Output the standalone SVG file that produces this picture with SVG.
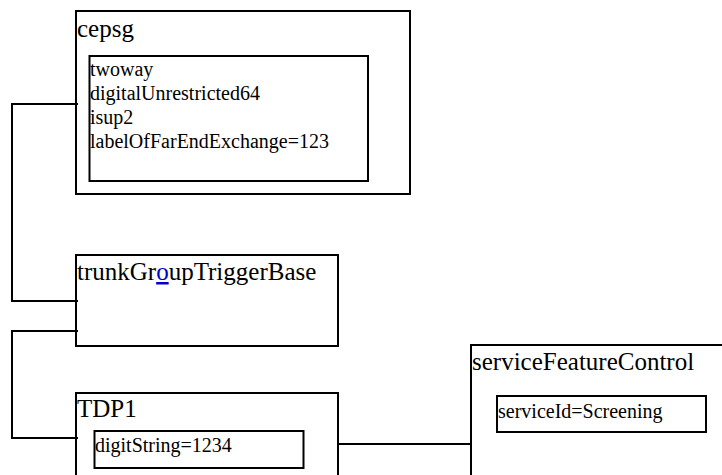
<svg xmlns="http://www.w3.org/2000/svg" width="722" height="475" viewBox="0 0 722 475">
<style>
rect{fill:none;stroke:#000;stroke-width:2}
.c path{fill:none;stroke:#000;stroke-width:2}
.big{font-size:25px}
.sm{font-size:20px}
</style>
<rect x="0" y="0" width="722" height="475" style="fill:#fff;stroke:none"/>
<g class="c" id="connectors">
<path d="M78,104 H12 V301 H78"/>
<path d="M78,331 H12 V438 H78"/>
<path d="M338,444 H471"/>
</g>
<g font-family="Liberation Serif, Tinos, Times New Roman, DejaVu Serif, serif" fill="#000">
<g id="cepsg">
<rect x="76" y="11" width="334" height="183"/>
<text class="big" x="77" y="37">cepsg</text>
<rect x="89.5" y="56" width="278.5" height="125"/>
<text class="sm" x="90" y="76">twoway</text>
<text class="sm" x="90" y="100">digitalUnrestricted64</text>
<text class="sm" x="90" y="124">isup2</text>
<text class="sm" x="90" y="148">labelOfFarEndExchange=123</text>
</g>
<g id="trunkGroupTriggerBase">
<rect x="76" y="255" width="262" height="91"/>
<text class="big" x="77" y="280">trunkGr<tspan fill="#0000cc" text-decoration="underline">o</tspan>upTriggerBase</text>
</g>
<g id="TDP1">
<rect x="76" y="393" width="262" height="100"/>
<text class="big" x="77" y="417">TDP1</text>
<rect x="94.5" y="431" width="209" height="37"/>
<text class="sm" x="95" y="452">digitString=1234</text>
</g>
<g id="serviceFeatureControl">
<rect x="471" y="345" width="300" height="150"/>
<text class="big" x="472" y="370">serviceFeatureControl</text>
<rect x="497" y="396" width="209" height="36"/>
<text class="sm" x="498" y="418">serviceId=Screening</text>
</g>
</g>
</svg>
